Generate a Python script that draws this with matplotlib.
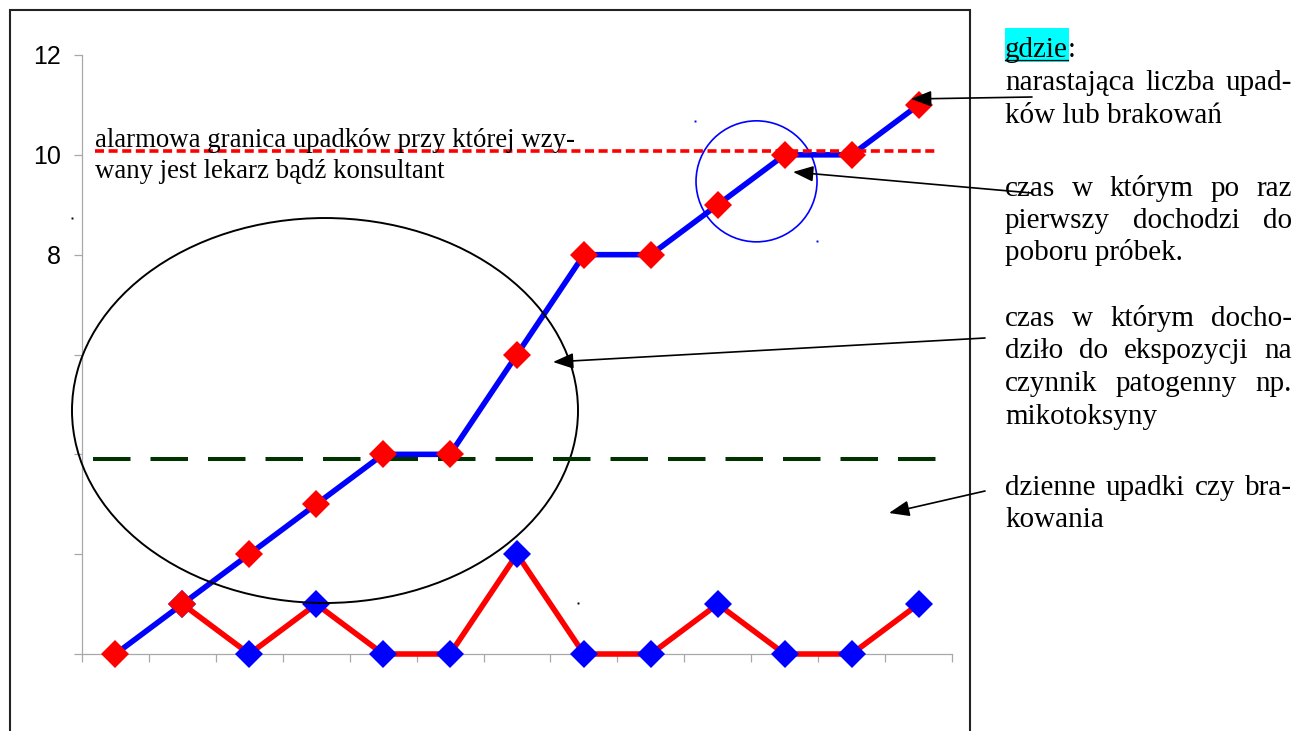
import matplotlib
matplotlib.use('Agg')
import matplotlib.pyplot as plt
from matplotlib.patches import Ellipse, Rectangle, FancyArrowPatch
from matplotlib.lines import Line2D
import numpy as np

# ---------------- data ----------------
days = list(range(13))
cumulative = [0, 1, 2, 3, 4, 4, 6, 8, 8, 9, 10, 10, 11]
daily = [np.nan, 1, 0, 1, 0, 0, 2, 0, 0, 1, 0, 0, 1]
y_ticks = [0, 2, 4, 6, 8, 10, 12]
y_tick_labels = ['', '', '', '', '8', '10', '12']
x_tick_edges = [i - 0.5 for i in range(14)]
alarm_level = 10.08
baseline_level = 3.9

alarm_text = ["alarmowa granica upadków przy której wzy-",
              "wany jest lekarz bądź konsultant"]

# ---------------- figure ----------------
W, H = 1300, 731
plt.rcParams['lines.scale_dashes'] = False
fig = plt.figure(figsize=(13, 7.31), dpi=100)
fig.patch.set_facecolor('white')


def fx(px):
    return px / W


def fy(py):
    return 1 - py / H


ax = fig.add_axes([fx(82), fy(654), 870 / W, 599 / H])
ax.patch.set_alpha(0)
ax.set_xlim(-0.5, 12.5)
ax.set_ylim(0, 12)
for s in ['top', 'right']:
    ax.spines[s].set_visible(False)
for s in ['left', 'bottom']:
    ax.spines[s].set_color('#a8a8a8')
    ax.spines[s].set_linewidth(0.9)
ax.set_xticks(x_tick_edges)
ax.set_xticklabels([])
ax.set_yticks(y_ticks)
ax.set_yticklabels(y_tick_labels, fontfamily='Liberation Sans', fontsize=18)
ax.tick_params(axis='both', color='#a8a8a8', length=5.5, width=0.9)
ax.tick_params(axis='y', pad=9.5)

MS = 13.8
LW = 4.0
# series
ax.plot(days, daily, color='#ff0000', lw=LW, zorder=3, clip_on=False)
ax.plot(days, daily, ls='none', marker='D', ms=MS, mew=0, color='#0000ff',
        zorder=4, clip_on=False)
ax.plot(days, cumulative, color='#0000ff', lw=LW, zorder=5, clip_on=False)

# reference lines
ax.plot([-0.306, 12.26], [alarm_level, alarm_level], color='#ff0000', lw=2.6,
        ls=(0, (6.5, 3.3)), dash_capstyle='butt', zorder=6, clip_on=False)
ax.plot([-0.336, 12.26], [baseline_level, baseline_level], color='#003300', lw=2.9,
        ls=(0, (27, 14.4)), dash_capstyle='butt', zorder=6, clip_on=False)

# ellipses
ax.add_patch(Ellipse((3.131, 4.878), 7.561, 7.712, fill=False, ec='black',
                     lw=1.4, zorder=5.5, clip_on=False))
ax.add_patch(Ellipse((9.579, 9.469), 1.808, 2.424, fill=False, ec='#0000ff',
                     lw=1.2, zorder=5.5, clip_on=False))

ax.plot(days, cumulative, ls='none', marker='D', ms=MS, mew=0, color='#ff0000',
        zorder=7, clip_on=False)

# frame
fig.add_artist(Rectangle((fx(10), fy(800)), fx(970) - fx(10), fy(10) - fy(800),
                         transform=fig.transFigure, fill=False, ec='#222222', lw=1.5))

# alarm label
serif = 'Liberation Serif'
fig.text(fx(95), fy(147), alarm_text[0], fontsize=19.3, family=serif, va='baseline')
fig.text(fx(95), fy(178), alarm_text[1], fontsize=19.3, family=serif, va='baseline')

# right-hand explanation
renderer = fig.canvas.get_renderer()
RS = 21
X0, X1 = 1005, 1292


def line(text, y, justify):
    words = text.split(' ')
    if not justify or len(words) == 1:
        fig.text(fx(X0), fy(y), text, fontsize=RS, family=serif, va='baseline')
        return
    objs = [fig.text(fx(X0), fy(y), w, fontsize=RS, family=serif, va='baseline')
            for w in words]
    widths = [o.get_window_extent(renderer).width for o in objs]
    gap = (X1 - X0 - sum(widths)) / (len(words) - 1)
    x = X0
    for o, w in zip(objs, widths):
        o.set_x(fx(x))
        x += w + gap


# "gdzie:" highlighted + underlined
fig.add_artist(Rectangle((fx(1005), fy(62)), fx(1069) - fx(1005), fy(28) - fy(62),
                         transform=fig.transFigure, fc='#00ffff', ec='none', zorder=0))
g = fig.text(fx(X0), fy(57), 'gdzie', fontsize=RS, family=serif, va='baseline')
gw = g.get_window_extent(renderer).width
fig.text(fx(X0 + gw), fy(57), ':', fontsize=RS, family=serif, va='baseline')
fig.add_artist(Line2D([fx(X0), fx(X0 + gw)], [fy(60), fy(60)], color='black', lw=0.9))

lines = [
    ("narastająca liczba upad-", 90, True),
    ("ków lub brakowań", 123, False),
    ("czas w którym po raz", 196, True),
    ("pierwszy dochodzi do", 228, True),
    ("poboru próbek.", 260, False),
    ("czas w którym docho-", 326, True),
    ("dziło do ekspozycji na", 358, True),
    ("czynnik patogenny np.", 391, True),
    ("mikotoksyny", 424, False),
    ("dzienne upadki czy bra-", 495, True),
    ("kowania", 527, False),
]
for t, y, j in lines:
    line(t, y, j)

# arrows
arrows = [((1032, 97), (911, 99)),
          ((1032, 193), (793, 172)),
          ((985, 338), (553, 362)),
          ((985, 491), (889, 513))]
for (ax_, ay_), (bx_, by_) in arrows:
    fig.add_artist(FancyArrowPatch((fx(ax_), fy(ay_)), (fx(bx_), fy(by_)),
                                   transform=fig.transFigure,
                                   arrowstyle='-|>,head_length=0.62,head_width=0.24',
                                   mutation_scale=20, lw=1.2, color='black',
                                   shrinkA=0, shrinkB=0, zorder=10))

# small stray dots
for (px, py, c) in [(72, 218, 'black'), (578, 603, 'black'),
                    (695, 121, '#0000ff'), (817, 241, '#0000ff')]:
    fig.add_artist(Line2D([fx(px)], [fy(py)], marker='s', ms=1.4, mew=0, color=c))

fig.savefig('out.png', dpi=100)
